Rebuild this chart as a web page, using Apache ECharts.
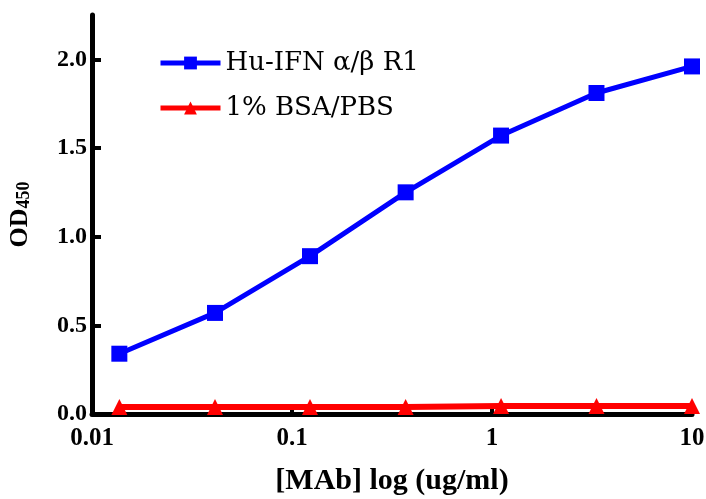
<!DOCTYPE html>
<html lang="en">
<head>
    <meta charset="UTF-8">
    <title>ELISA</title>
    <script src="https://cdn.jsdelivr.net/npm/echarts@6/dist/echarts.min.js"></script>
    <style>
        html, body { margin: 0; padding: 0; background: #fff; }
        #chart { width: 706px; height: 499px; }
    </style>
</head>
<body>
    <div id="chart"></div>
    <script>
        // 3-fold dilution series (ug/ml)
        let conc = [0.0137, 0.0412, 0.123, 0.370, 1.11, 3.33, 10];
        let ifnR1 = [0.34, 0.57, 0.89, 1.25, 1.57, 1.81, 1.96];
        let bsaPbs = [0.04, 0.04, 0.04, 0.04, 0.045, 0.045, 0.045];
        let seriesNames = ['Hu-IFN α/β R1', '1% BSA/PBS'];
        let yTicks = [0, 0.5, 1, 1.5, 2];

        let myEchart = echarts.init(document.querySelector('#chart'));
        let serif = '"Liberation Serif", "DejaVu Serif", serif';

        let option = {
            animation: false,
            grid: {
                left: 92,
                right: 14,
                top: 15,
                bottom: 85,
                outerBoundsMode: 'none'
            },
            legend: {
                orient: 'vertical',
                left: 153,
                top: 45,
                itemGap: 19,
                itemWidth: 60,
                itemHeight: 16,
                lineStyle: { width: 5 },
                textStyle: {
                    fontFamily: '"DejaVu Serif", serif',
                    fontSize: 26,
                    color: '#000'
                },
                data: seriesNames
            },
            xAxis: {
                type: 'log',
                logBase: 10,
                min: 0.01,
                max: 10,
                name: '[MAb] log (ug/ml)',
                nameLocation: 'middle',
                nameGap: 52,
                nameTextStyle: {
                    fontFamily: serif,
                    fontWeight: 'bold',
                    fontSize: 30,
                    color: '#000'
                },
                axisLine: {
                    lineStyle: { color: '#000', width: 5 }
                },
                axisTick: {
                    inside: true,
                    length: 9,
                    lineStyle: { color: '#000', width: 4 }
                },
                minorTick: { show: false },
                splitLine: { show: false },
                axisLabel: {
                    fontFamily: serif,
                    fontWeight: 'bold',
                    fontSize: 25,
                    color: '#000',
                    margin: 12,
                    formatter: function (v) { return String(v); }
                }
            },
            yAxis: {
                type: 'value',
                min: 0,
                max: 2.25,
                interval: 0.5,
                name: 'OD{sub|450}',
                nameLocation: 'middle',
                nameGap: 59,
                nameRotate: 90,
                nameTextStyle: {
                    fontFamily: serif,
                    fontWeight: 'bold',
                    fontSize: 26,
                    color: '#000',
                    rich: {
                        sub: {
                            fontFamily: serif,
                            fontWeight: 'bold',
                            fontSize: 18,
                            color: '#000',
                            verticalAlign: 'bottom',
                            padding: [8, 0, 0, 0]
                        }
                    }
                },
                axisLine: {
                    show: true,
                    lineStyle: { color: '#000', width: 5 }
                },
                axisTick: {
                    show: true,
                    inside: true,
                    length: 9,
                    customValues: yTicks,
                    lineStyle: { color: '#000', width: 4 }
                },
                splitLine: { show: false },
                axisLabel: {
                    fontFamily: serif,
                    fontWeight: 'bold',
                    fontSize: 24,
                    color: '#000',
                    margin: 5,
                    customValues: yTicks,
                    formatter: function (v) { return v.toFixed(1); }
                }
            },
            series: [
                {
                    name: seriesNames[0],
                    type: 'line',
                    data: conc.map((c, i) => [c, ifnR1[i]]),
                    symbol: 'rect',
                    symbolSize: 16,
                    color: '#0000ff',
                    lineStyle: { width: 5, color: '#0000ff' },
                    itemStyle: { color: '#0000ff' }
                },
                {
                    name: seriesNames[1],
                    type: 'line',
                    data: conc.map((c, i) => [c, bsaPbs[i]]),
                    symbol: 'triangle',
                    symbolSize: 16,
                    color: '#ff0000',
                    lineStyle: { width: 6, color: '#ff0000' },
                    itemStyle: { color: '#ff0000' },
                    z: 1
                }
            ]
        };
        myEchart.setOption(option);
    </script>
</body>
</html>
